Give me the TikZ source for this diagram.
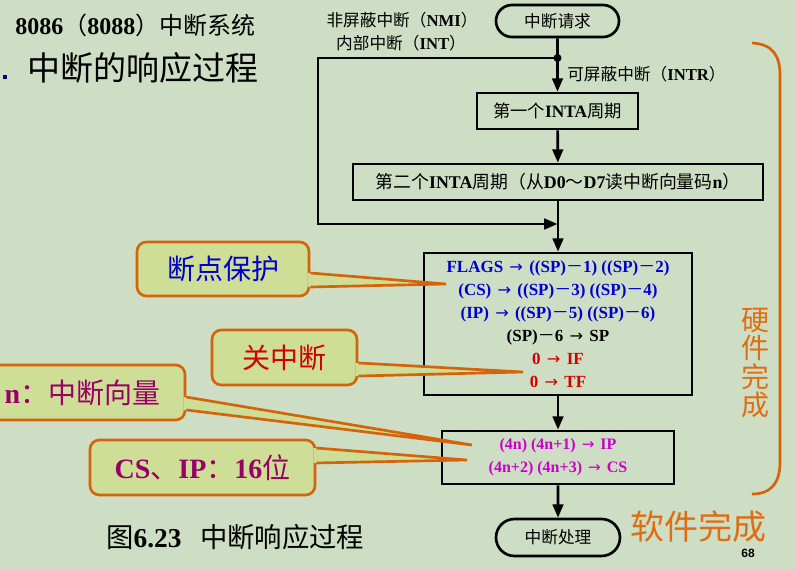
\documentclass[tikz,border=0pt]{standalone}
\usepackage{fontspec}
\setmainfont{Liberation Serif}
\newfontfamily\cjk{Noto Sans CJK SC}
\newfontfamily\lsans{Liberation Sans}
\newfontfamily\dvs{DejaVu Sans}
\usetikzlibrary{arrows.meta,shapes.misc}
\newcommand\zh[1]{{\cjk\mdseries #1}}
\newcommand\ar{\hspace{1.5pt}{\dvs\mdseries\scalebox{0.95}{→}}\hspace{1.5pt}}
\newcommand\fs[2]{\fontsize{#1}{#2}\selectfont}
\definecolor{bg}{RGB}{206,222,196}
\definecolor{cfill}{RGB}{206,222,150}
\definecolor{cline}{RGB}{212,100,10}
\definecolor{tblue}{RGB}{0,0,204}
\definecolor{tred}{RGB}{210,0,0}
\definecolor{tmag}{RGB}{204,0,204}
\definecolor{tpurp}{RGB}{153,0,102}
\definecolor{torange}{RGB}{222,110,20}
\definecolor{navy}{RGB}{0,0,128}
\tikzset{
  fbox/.style={draw=black, line width=2pt, inner sep=0pt, align=center},
  term/.style={draw=black, line width=2pt, rounded rectangle, inner sep=0pt},
  flow/.style={draw=black, line width=2pt, -{Triangle[length=10pt,width=8pt]}},
  callout/.style={draw=cline, fill=cfill, line width=2pt, rounded corners=7pt, inner sep=0pt},
  cptr/.style={draw=cline, line width=2pt, line join=miter},
  lbl/.style={inner sep=0pt, font=\bfseries\fs{12.5}{15}},
}
\begin{document}
\begin{tikzpicture}[x=0.75pt,y=-0.75pt]
\useasboundingbox (0,0) rectangle (795,570);
\fill[bg] (0,0) rectangle (795,570);
\clip (0,0) rectangle (795,570);

% titles
\node[anchor=west, inner sep=0pt, font=\bfseries\fs{18}{22}] (title) at (15,25) {8086\zh{（}8088\zh{）中断系统}};
\fill[navy] (3,75) rectangle (7,79);
\node[anchor=west, inner sep=0pt, font=\cjk\fs{24.75}{28}] (sub) at (27,68) {中断的响应过程};

% flowchart
\node[term, minimum width=92.25pt, minimum height=24pt, font=\cjk\fs{12.5}{15}] (t1) at (557.5,21) {中断请求};
\coordinate (j1) at (557.5,58);
\coordinate (lc1) at (318,58);
\coordinate (lc2) at (318,224);
\coordinate (j2) at (557.5,224);
\node[fbox, minimum width=120.75pt, minimum height=27pt, font=\bfseries\fs{13}{16}] (b1) at (557.5,111) {\zh{第一个}INTA\zh{周期}};
\node[fbox, minimum width=307.5pt, minimum height=27pt, font=\bfseries\fs{13.4}{16}] (b2) at (558,182) {\zh{第二个}INTA\zh{周期（从}D0\zh{～}D7\zh{读中断向量码}n\zh{）}};
\node[fbox, minimum width=201pt, minimum height=106.5pt, font=\bfseries\fs{12.75}{17.25}] (b3) at (558,324)
  {\textcolor{tblue}{FLAGS \ar{} ((SP)\zh{－}1) ((SP)\zh{－}2)}\\
   \textcolor{tblue}{(CS) \ar{} ((SP)\zh{－}3) ((SP)\zh{－}4)}\\
   \textcolor{tblue}{(IP) \ar{} ((SP)\zh{－}5) ((SP)\zh{－}6)}\\
   (SP)\zh{－}6 \ar{} SP\\
   \textcolor{tred}{0 \ar{} IF}\\
   \textcolor{tred}{0 \ar{} TF}};
\node[fbox, minimum width=174pt, minimum height=39.75pt, font=\bfseries\fs{12}{17.25}] (b4) at (558,457.5)
  {\textcolor{tmag}{(4n) (4n+1) \ar{} IP}\\
   \textcolor{tmag}{(4n+2) (4n+3) \ar{} CS}};
\node[term, minimum width=93pt, minimum height=27.75pt, font=\cjk\fs{12.5}{15}] (t2) at (558,537.5) {中断处理};

\draw[flow] (t1) -- (b1);
\fill (j1) circle (3pt);
\draw[flow] (j1) -- (lc1) -- (lc2) -- (j2);
\draw[flow] (b1) -- (b2);
\draw[flow] (b2) -- (b3);
\draw[flow] (b3) -- (b4);
\draw[flow] (b4) -- (t2);

\node[lbl] (nmi) at (402,20) {\zh{非屏蔽中断（}NMI\zh{）}};
\node[lbl] (int) at (401,43) {\zh{内部中断（}INT\zh{）}};
\node[lbl, anchor=west] (intr) at (567,74) {\zh{可屏蔽中断（}INTR\zh{）}};

% brace and side labels
\draw[cline, line width=2pt] (752,43) .. controls (772,44) and (780,55) .. (780,75) -- (780,462) .. controls (780,482) and (772,494) .. (752,494);
\node[inner sep=0pt, align=center, text=torange, font=\cjk\fs{21}{21.4}] (hw) at (755,363) {硬\\件\\完\\成};
\node[inner sep=0pt, text=torange, font=\cjk\fs{25.5}{28}] (sw) at (698,527) {软件完成};
\node[inner sep=0pt, font=\lsans\bfseries\fs{9}{11}] (pg) at (748,553) {68};

% caption
\node[anchor=west, inner sep=0pt, font=\bfseries\fs{20.5}{24}] (cap) at (106,537) {\zh{图}6.23\hspace{14pt}\zh{中断响应过程}};

% callouts
\coordinate (tp1) at (446,284);
\coordinate (tp2) at (523,372);
\coordinate (tp3) at (472,445);
\coordinate (tp4) at (467,460);
\node[callout, minimum width=129pt, minimum height=40.5pt, text=tblue, font=\cjk\fs{21}{24}] (c1) at (223,269) {断点保护};
\node[callout, minimum width=108.75pt, minimum height=41.25pt, text=tred, font=\cjk\fs{21}{24}] (c2) at (284.5,357.5) {关中断};
\node[callout, minimum width=153.75pt, minimum height=41.25pt, text=tpurp, font=\bfseries\fs{21}{24}] (c3) at (82.5,392.5) {n\zh{：中断向量}};
\node[callout, minimum width=168.75pt, minimum height=41.25pt, text=tpurp, font=\bfseries\fs{21}{24}] (c4) at (202.5,467.5) {CS\zh{、}IP\zh{：}16\zh{位}};

\fill[cfill] ([xshift=-2pt,yshift=-3pt]c1.east) -- (tp1) -- ([xshift=-2pt,yshift=-13.5pt]c1.east) -- cycle;
\draw[cptr] ([yshift=-3pt]c1.east) -- (tp1) -- ([yshift=-13.5pt]c1.east);
\fill[cfill] ([xshift=-2pt,yshift=-4.1pt]c2.east) -- (tp2) -- ([xshift=-2pt,yshift=-13.9pt]c2.east) -- cycle;
\draw[cptr] ([yshift=-4.1pt]c2.east) -- (tp2) -- ([yshift=-13.9pt]c2.east);
\fill[cfill] ([xshift=-2pt,yshift=-3.4pt]c3.east) -- (tp3) -- ([xshift=-2pt,yshift=-13.1pt]c3.east) -- cycle;
\draw[cptr] ([yshift=-3.4pt]c3.east) -- (tp3) -- ([yshift=-13.1pt]c3.east);
\fill[cfill] ([xshift=-2pt,yshift=14.6pt]c4.east) -- (tp4) -- ([xshift=-2pt,yshift=3.4pt]c4.east) -- cycle;
\draw[cptr] ([yshift=14.6pt]c4.east) -- (tp4) -- ([yshift=3.4pt]c4.east);
\end{tikzpicture}
\end{document}
